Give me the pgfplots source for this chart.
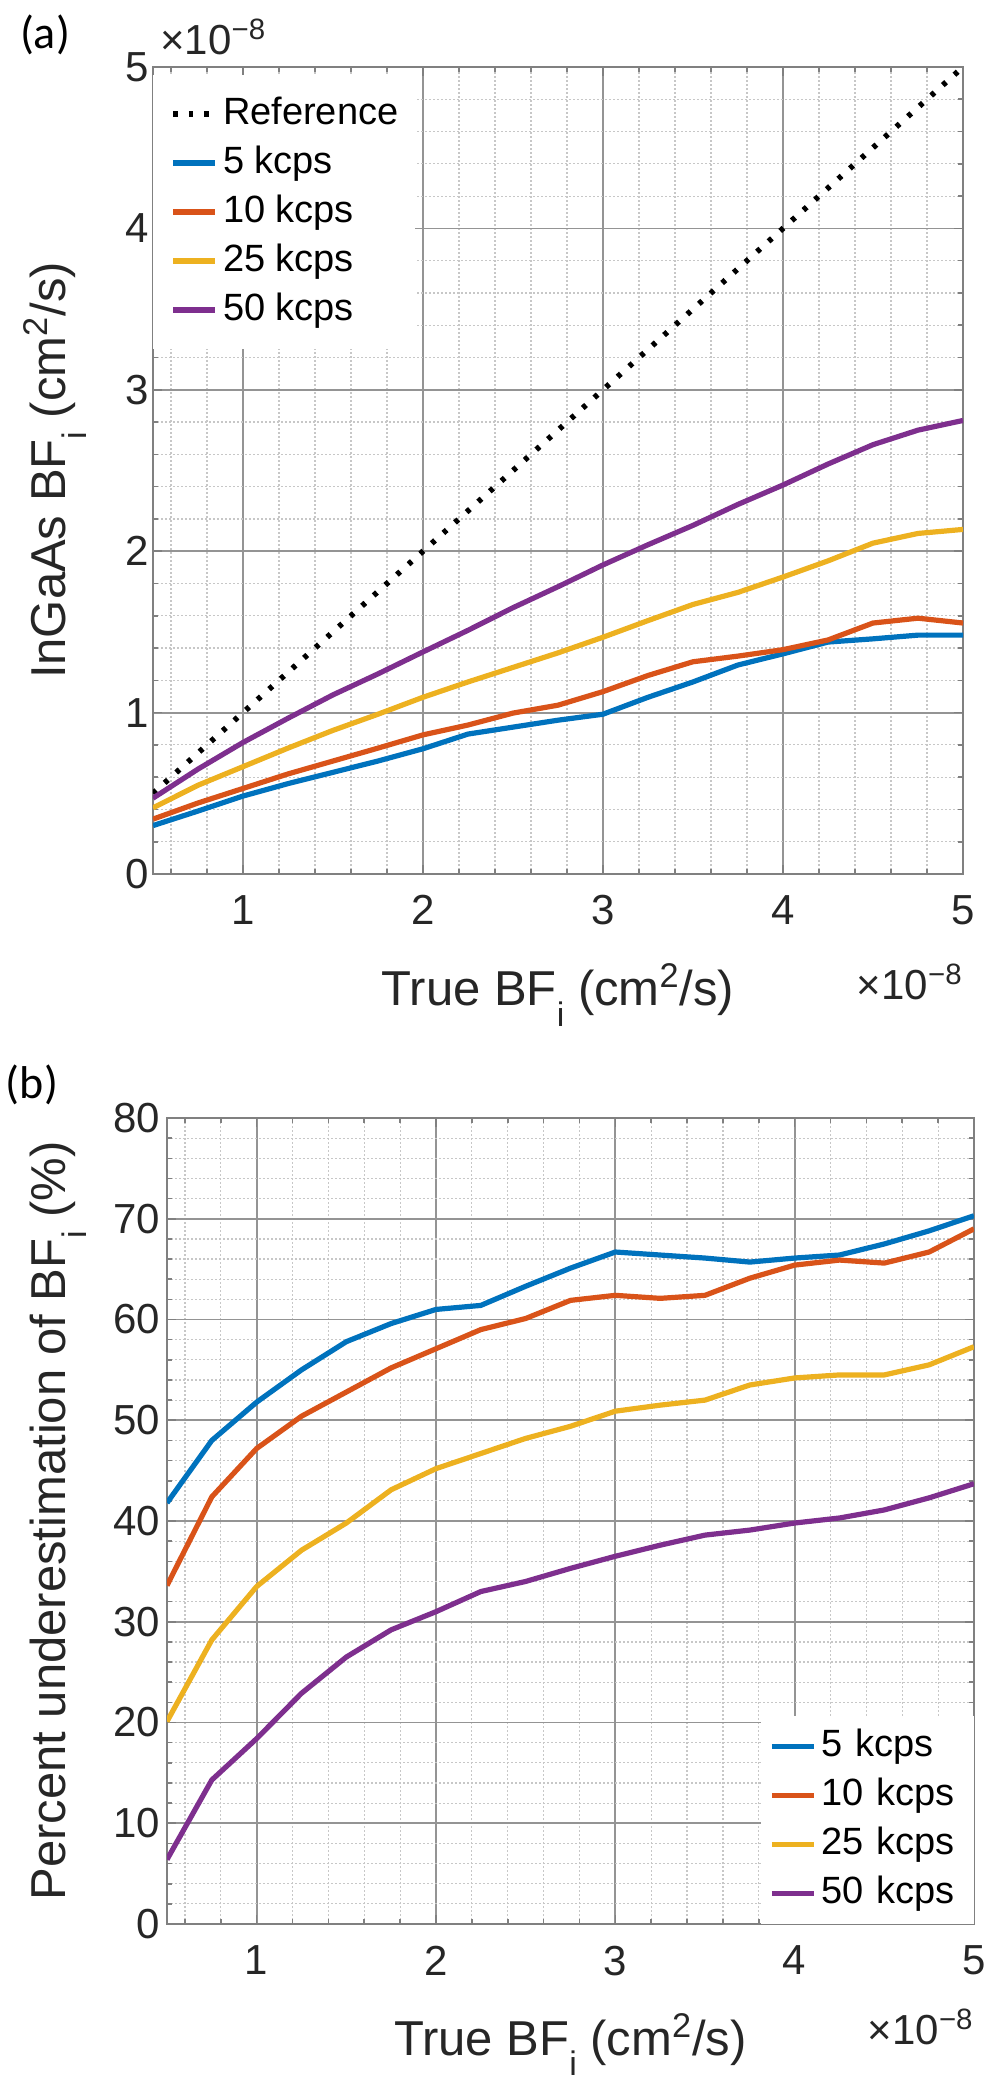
\documentclass[border=0pt]{standalone}
\usepackage{fontspec}
\setmainfont{Liberation Sans}
\newfontfamily\labfont{Carlito}
\usepackage{pgfplots}
\usepackage{pgfplotstable}
\pgfplotsset{compat=1.18}

\newcommand\subi{\raisebox{-0.42em}{\fontsize{17}{17}\selectfont i}}

\definecolor{mblue}{rgb}{0,0.447,0.741}
\definecolor{morange}{rgb}{0.85,0.325,0.098}
\definecolor{myellow}{rgb}{0.929,0.694,0.125}
\definecolor{mpurple}{rgb}{0.494,0.184,0.556}

\pgfplotstableread{
x    b      o      y      p
0.50 0.300  0.340  0.410  0.470
0.75 0.390  0.440  0.550  0.650
1.00 0.483  0.530  0.665  0.815
1.25 0.560  0.620  0.780  0.965
1.50 0.630  0.700  0.890  1.110
1.75 0.700  0.780  0.990  1.240
2.00 0.776  0.862  1.095  1.376
2.25 0.867  0.923  1.190  1.510
2.50 0.910  0.997  1.280  1.650
2.75 0.953  1.046  1.370  1.780
3.00 0.990  1.130  1.467  1.915
3.25 1.095  1.230  1.570  2.040
3.50 1.190  1.315  1.670  2.160
3.75 1.295  1.350  1.745  2.290
4.00 1.364  1.390  1.840  2.410
4.25 1.437  1.450  1.940  2.540
4.50 1.457  1.555  2.050  2.660
4.75 1.480  1.585  2.110  2.750
5.00 1.480  1.555  2.135  2.810
}\topdata

\pgfplotstableread{
x    b     o     y     p
0.50 41.8  33.6  20.1  6.4
0.75 48.0  42.4  28.2  14.3
1.00 51.8  47.2  33.5  18.4
1.25 55.0  50.4  37.1  22.9
1.50 57.8  52.8  39.8  26.5
1.75 59.6  55.2  43.1  29.2
2.00 61.0  57.1  45.2  31.0
2.25 61.4  59.0  46.7  33.0
2.50 63.3  60.1  48.2  34.0
2.75 65.1  61.9  49.4  35.3
3.00 66.7  62.4  50.9  36.5
3.25 66.4  62.1  51.5  37.6
3.50 66.1  62.4  52.0  38.6
3.75 65.7  64.1  53.5  39.1
4.00 66.1  65.4  54.2  39.8
4.25 66.4  65.9  54.5  40.3
4.50 67.5  65.6  54.5  41.1
4.75 68.8  66.7  55.5  42.3
5.00 70.3  69.0  57.3  43.7
}\botdata

\pgfplotsset{
 mstyle/.style={
  scale only axis,
  /pgf/number format/assume math mode=true,
  xmin=0.5, xmax=5,
  xtick={1,2,3,4,5},
  minor xtick={0.6,0.8,...,5},
  grid=both,
  major grid style={line width=0.9pt, draw=black!42},
  minor grid style={line width=0.6pt, draw=black!22, dash pattern=on 1pt off 1pt},
  axis line style={draw=black!50, line width=1.1pt},
  tick style={draw=black!50, line width=0.8pt},
  tick align=inside,
  major tick length=4.5pt, minor tick length=2.5pt,
  tick label style={font=\fontsize{21}{25}\selectfont, text=black!85},
  xticklabel style={yshift=-7.3pt},
  label style={font=\fontsize{24.5}{29}\selectfont, text=black!85},
  xlabel style={at={(axis description cs:0.5,-0.163)}, anchor=base},
  legend image code/.code={\draw[#1] (0pt,0pt) -- (21pt,0pt);},
  legend cell align=left,
  legend style={draw=none, fill=white, font=\fontsize{19}{23}\selectfont,
    nodes={inner sep=0pt, text height=14pt, text depth=4pt},
    row sep=6.5pt, column sep=2.5pt},
  every axis plot/.append style={line width=2.6pt, line join=round},
 }
}

\begin{document}
\begin{tikzpicture}
\path[use as bounding box] (0pt,0pt) rectangle (496pt,-1043.5pt);

\node[font=\labfont\fontsize{23}{27}\selectfont] at (22.5pt,-17.5pt) {(a)};
\node[font=\labfont\fontsize{23}{27}\selectfont] at (16pt,-542.5pt) {(b)};

\begin{axis}[mstyle,
  at={(76.5pt,-33.5pt)}, anchor=north west,
  width=405pt, height=403.5pt,
  ymin=0, ymax=5, ytick={0,1,2,3,4,5},
  minor ytick={0.2,0.4,...,5},
  yticklabel style={xshift=1.5pt},
  xlabel={True BF\subi\ (cm\textsuperscript{2}/s)},
  ylabel={InGaAs BF\subi\ (cm\textsuperscript{2}/s)},
  ylabel style={at={(axis description cs:-0.121,0.5)}, anchor=center},
  legend style={at={(axis description cs:0,1)}, anchor=north west, yshift=-4pt,
    inner xsep=8.5pt, inner ysep=10.3pt},
  extra description/.code={
    \node[inner sep=0pt, anchor=base west, font=\fontsize{21}{25}\selectfont, text=black!85]
      at (axis description cs:0.0086,1.016) {×10\textsuperscript{−8}};
    \node[inner sep=0pt, anchor=base east, font=\fontsize{21}{25}\selectfont, text=black!85]
      at (axis description cs:1,-0.155) {×10\textsuperscript{−8}};
  },
]
\addplot[black, line width=2.8pt, dash pattern=on 2.2pt off 5.6pt] table[x=x, y=x] {\topdata};
\addlegendentry{Reference}
\addplot[mblue] table[x=x, y=b] {\topdata};
\addlegendentry{5 kcps}
\addplot[morange] table[x=x, y=o] {\topdata};
\addlegendentry{10 kcps}
\addplot[myellow] table[x=x, y=y] {\topdata};
\addlegendentry{25 kcps}
\addplot[mpurple] table[x=x, y=p] {\topdata};
\addlegendentry{50 kcps}
\end{axis}

\begin{axis}[mstyle,
  at={(83.5pt,-559pt)}, anchor=north west,
  width=403.5pt, height=403pt,
  ymin=0, ymax=80, ytick={0,10,...,80},
  minor ytick={2,4,...,80},
  xlabel={True BF\subi\ (cm\textsuperscript{2}/s)},
  ylabel={Percent underestimation of BF\subi\ (\%)},
  ylabel style={at={(axis description cs:-0.135,0.5)}, anchor=center},
  legend style={at={(axis description cs:1,0)}, anchor=south east,
    inner xsep=4pt, inner ysep=6.2pt, nodes={text width=72pt}},
  extra description/.code={
    \node[inner sep=0pt, anchor=base east, font=\fontsize{21}{25}\selectfont, text=black!85]
      at (axis description cs:1,-0.15) {×10\textsuperscript{−8}};
  },
]
\addplot[mblue] table[x=x, y=b] {\botdata};
\addlegendentry{5 kcps}
\addplot[morange] table[x=x, y=o] {\botdata};
\addlegendentry{10 kcps}
\addplot[myellow] table[x=x, y=y] {\botdata};
\addlegendentry{25 kcps}
\addplot[mpurple] table[x=x, y=p] {\botdata};
\addlegendentry{50 kcps}
\end{axis}
\end{tikzpicture}
\end{document}
